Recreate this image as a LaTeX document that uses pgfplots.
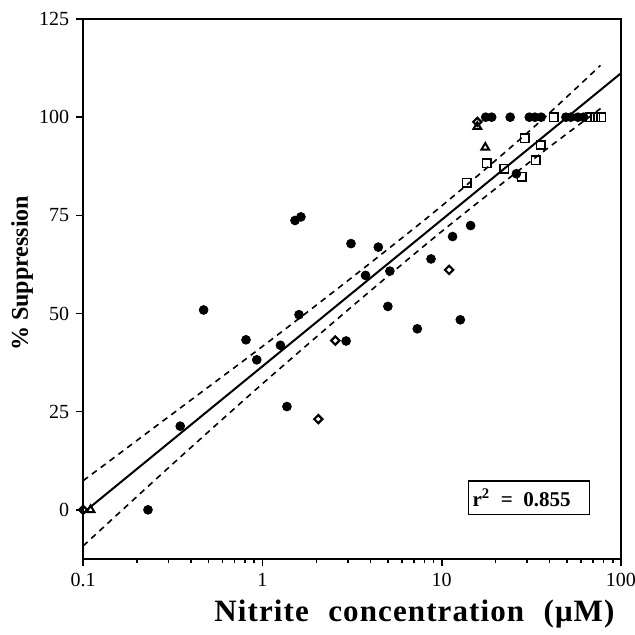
\documentclass[border=0pt]{standalone}
\usepackage{fontspec}
\setmainfont{Liberation Serif}
\newfontfamily\labelfont[LetterSpace=3.5,WordSpace=2.2]{Liberation Serif}
\usepackage{pgfplots}
\pgfplotsset{compat=1.18}

\begin{document}
\begin{tikzpicture}
\begin{axis}[
  width=268.5pt, height=269.5pt, scale only axis,
  xmode=log, xmin=0.1, xmax=100,
  ymin=-12.5, ymax=125,
  xtick={0.1,1,10,100}, xticklabels={0.1,1,10,100},
  minor xtick={0.2,0.3,0.4,0.5,0.6,0.7,0.8,0.9,2,3,4,5,6,7,8,9,20,30,40,50,60,70,80,90},
  ytick={0,25,50,75,100,125},
  tick align=outside, xtick pos=bottom, ytick pos=left,
  major tick length=3.5pt, minor tick length=1.8pt,
  every tick/.style={black, line width=0.8pt},
  axis line style={line width=1pt},
  tick label style={font=\fontsize{10}{12}\selectfont},
  /pgf/number format/assume math mode=true,
  xlabel={\labelfont\bfseries Nitrite concentration (μM)},
  xlabel style={font=\fontsize{15.5}{17}\selectfont, at={(axis description cs:0.616,-0.102)}, anchor=center},
  ylabel={\bfseries\% Suppression},
  ylabel style={font=\fontsize{12}{14}\selectfont, at={(axis description cs:-0.1136,0.529)}, anchor=center},
]
\coordinate (ll) at (rel axis cs:0,0);
\coordinate (ur) at (rel axis cs:1,1);

% regression line and confidence band
\addplot[black, line width=1pt] coordinates {(0.105,0) (100,111.2)};
\addplot[black, line width=0.8pt, dash pattern=on 3pt off 2.5pt, smooth] coordinates {
  (0.1,7.4) (0.3162,24.5) (1,41.6) (3.162,59.2) (10,77.4) (31.62,96.9) (76.9,113.2)};
\addplot[black, line width=0.8pt, dash pattern=on 3pt off 2.5pt, smooth] coordinates {
  (0.1,-9.2) (0.3162,11.7) (1,32.1) (3.162,51.8) (10,70.9) (31.62,88.9) (76.9,102.2)};

% filled circles
\addplot[only marks, mark=*, mark size=2.2pt, black] coordinates {
  (0.23,0) (0.348,21.3) (0.47,50.9) (0.81,43.3) (0.93,38.2) (1.26,41.9)
  (1.37,26.3) (1.52,73.7) (1.60,49.7) (1.64,74.6) (2.93,43.0) (3.12,67.8)
  (3.76,59.7) (4.43,66.9) (5.01,51.8) (5.14,60.8) (7.31,46.1) (8.72,63.9)
  (11.5,69.6) (12.7,48.4) (14.5,72.4) (26.1,85.6)
  (17.6,100) (19.0,100) (24.1,100) (30.8,100) (33.1,100) (35.9,100)
  (49.3,100) (52.5,100) (57.5,100) (61.9,100)
};

% open squares
\addplot[only marks, mark=square, mark size=2.1pt, black, line width=0.8pt] coordinates {
  (13.8,83.3) (17.8,88.3) (22.3,86.9) (28.0,84.8) (29.1,94.6) (33.4,89.0)
  (35.7,92.9) (42.1,100) (67.0,100) (71.8,100) (77.8,100)
};

% open diamonds
\addplot[only marks, mark=square, mark size=1.45pt, black, line width=1.1pt,
  mark options={rotate=45, fill=white}] coordinates {
  (0.1,0) (2.05,23.1) (2.55,43.1) (11.0,61.1) (15.8,98.8)
};

% open triangles
\addplot[only marks, mark=triangle, mark size=2.2pt, black, line width=1pt] coordinates {
  (0.110,0) (17.5,92.3) (15.8,97.6)
};

\node[draw, line width=0.7pt, anchor=west, minimum height=16.7pt,
      text width=56.5pt, inner xsep=2pt, align=left,
      font=\fontsize{10.5}{12}\selectfont\bfseries]
  at (axis cs:14.0,3.1) {r\textsuperscript{2}\hspace{0.5em}=\hspace{0.5em}0.855};
\end{axis}
\pgfresetboundingbox
\path ([shift={(-41.5pt,-37.5pt)}]ll) rectangle ([shift={(7pt,9.5pt)}]ur);
\end{tikzpicture}
\end{document}
